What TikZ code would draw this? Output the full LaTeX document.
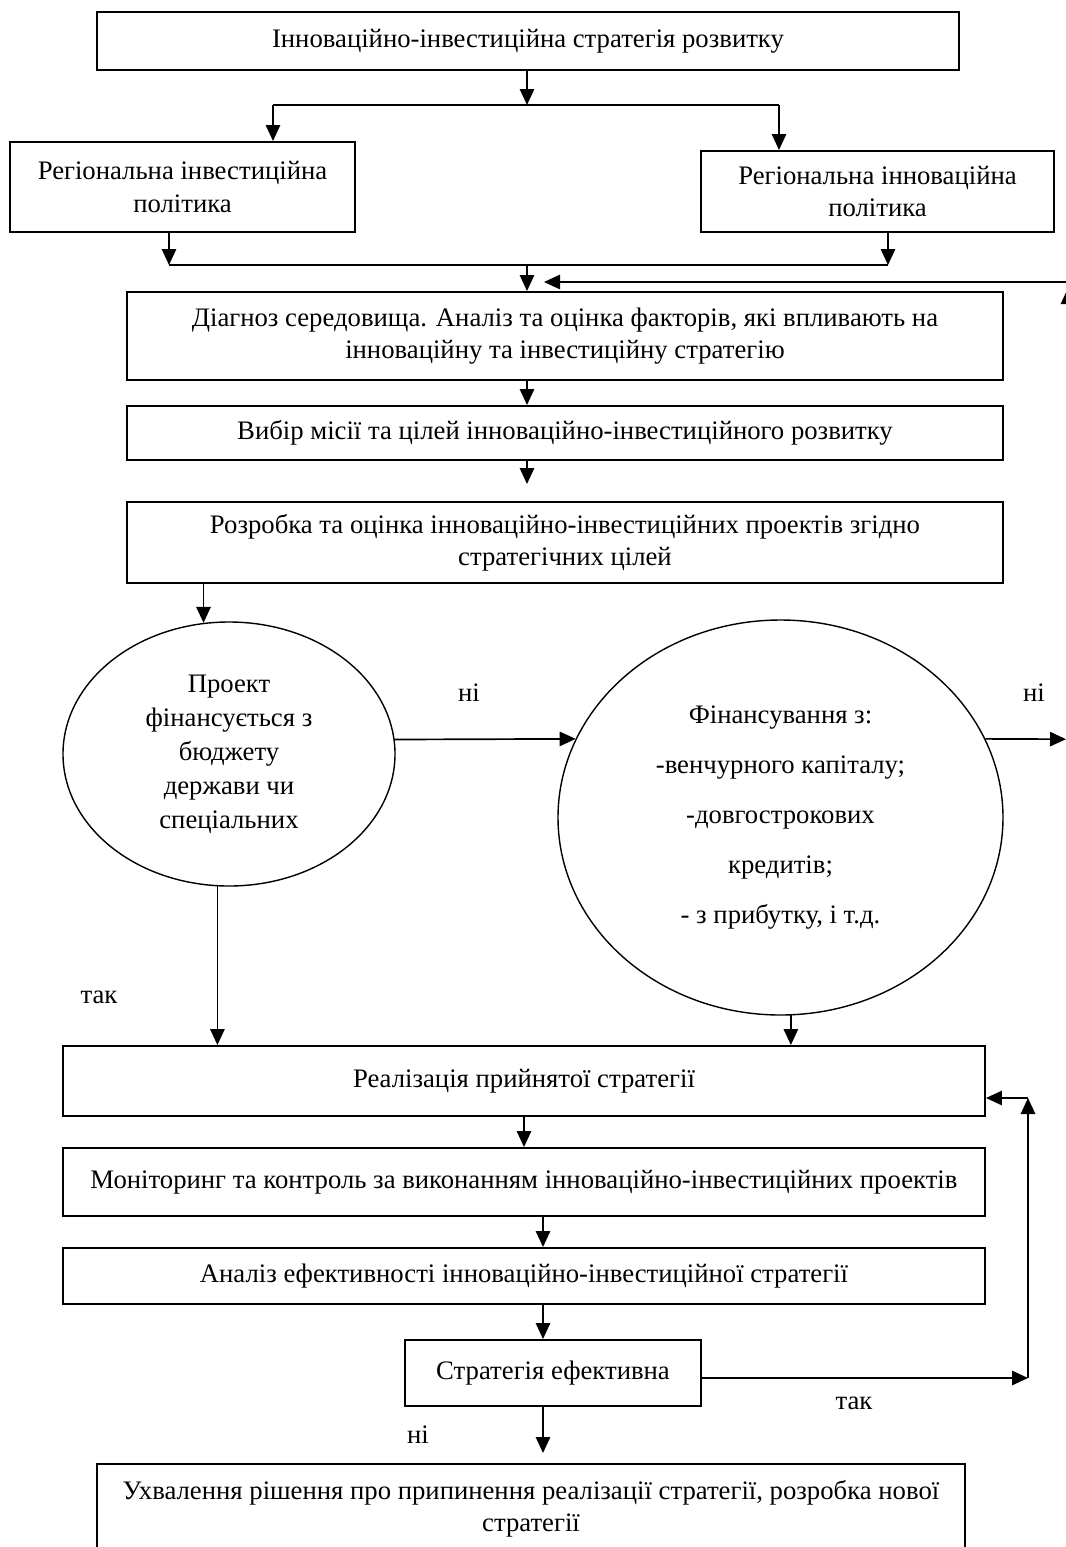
\documentclass[tikz,border=0pt]{standalone}
\usepackage{fontspec}
\setmainfont{Liberation Serif}
\usetikzlibrary{shapes.geometric,arrows.meta}

\begin{document}
\begin{tikzpicture}[
    block/.style={rectangle, draw=black, line width=1.4pt, inner sep=0pt, align=center, font=\fontsize{19}{22.8}\selectfont},
    decision/.style={ellipse, draw=black, line width=1pt, inner sep=0pt, align=center},
    answer/.style={font=\fontsize{19}{22.8}\selectfont},
    arrow/.style={-{Triangle[length=0.4cm,width=0.36cm]}, line width=1.2pt},
    joinline/.style={line width=1.2pt}
]

\useasboundingbox (0,0) rectangle (26.65,-38.675);
\clip (0,0) rectangle (26.65,-38.675);

% Strategy and policies
\node[block, minimum width=21.55cm, minimum height=1.45cm] at (13.2,-1.025) (strat) {Інноваційно-інвестиційна стратегія розвитку};
\node[block, minimum width=8.625cm, minimum height=2.25cm] at (4.5625,-4.675) (invpol) {Регіональна інвестиційна\\політика};
\node[block, minimum width=8.825cm, minimum height=2.025cm] at (21.9375,-4.7875) (innpol) {Регіональна інноваційна\\політика};

% Analysis steps
\node[block, minimum width=21.9cm, minimum height=2.2cm] at (14.125,-8.4) (diag) {Діагноз середовища. Аналіз та оцінка факторів, які впливають на\\інноваційну та інвестиційну стратегію};
\node[block, minimum width=21.9cm, minimum height=1.35cm] at (14.125,-10.825) (mission) {Вибір місії та цілей інноваційно-інвестиційного розвитку};
\node[block, minimum width=21.9cm, minimum height=2.025cm] at (14.125,-13.5625) (projects) {Розробка та оцінка інноваційно-інвестиційних проектів згідно\\стратегічних цілей};

% Financing decisions
\node[decision, minimum width=8.3cm, minimum height=6.6cm, font=\fontsize{19}{24.2}\selectfont] at (5.725,-18.85) (budget) {Проект\\фінансується з\\бюджету\\держави чи\\спеціальних};
\node[decision, minimum width=11.125cm, minimum height=9.875cm, font=\fontsize{19}{35.6}\selectfont] at (19.5125,-20.4375) (funds) {Фінансування з:\\-венчурного капіталу;\\-довгострокових\\кредитів;\\- з прибутку, і т.д.};

% Implementation and control
\node[block, minimum width=23.05cm, minimum height=1.75cm] at (13.1,-27.025) (impl) {Реалізація прийнятої стратегії};
\node[block, minimum width=23.05cm, minimum height=1.7cm] at (13.1,-29.55) (monitor) {Моніторинг та контроль за виконанням інноваційно-інвестиційних проектів};
\node[block, minimum width=23.05cm, minimum height=1.4cm] at (13.1,-31.9) (effect) {Аналіз ефективності інноваційно-інвестиційної стратегії};
\node[block, minimum width=7.4cm, minimum height=1.65cm] at (13.825,-34.325) (check) {Стратегія ефективна};
\node[block, minimum width=21.7cm, minimum height=2.25cm] at (13.275,-37.725) (stop) {Ухвалення рішення про припинення реалізації стратегії, розробка нової\\стратегії};

% Answers
\node[answer] at (11.725,-17.325) (no1) {ні};
\node[answer] at (25.85,-17.325) (no2) {ні};
\node[answer] at (2.475,-24.925) (yes1) {так};
\node[answer] at (21.35,-35.075) (yes2) {так};
\node[answer] at (10.45,-35.875) (no3) {ні};

% Helper points
\coordinate (split) at (13.175,-2.625);
\coordinate (splitL) at (6.825,-2.625);
\coordinate (splitR) at (19.475,-2.625);
\coordinate (joinL) at (4.225,-6.625);
\coordinate (joinR) at (22.2,-6.625);
\coordinate (joinC) at (13.175,-6.625);
\coordinate (backin) at (26.75,-7.05);
\coordinate (backtip) at (13.6,-7.05);
\coordinate (edgelow) at (26.7,-9);
\coordinate (edgetip) at (26.7,-7.2);
\coordinate (gap) at (13.175,-12.1);
\coordinate (out) at (26.65,-18.48);
\coordinate (col) at (13.575,-31);
\coordinate (down) at (13.575,-36.325);
\coordinate (loopA) at (25.7,-34.45);
\coordinate (loopB) at (25.7,-27.45);

% Arrows
\draw[arrow] (split |- strat.south) -- (split);
\draw[joinline] (splitL) -- (splitR);
\draw[arrow] (splitL) -- (splitL |- invpol.north);
\draw[arrow] (splitR) -- (splitR |- innpol.north);
\draw[arrow] (joinL |- invpol.south) -- (joinL);
\draw[arrow] (joinR |- innpol.south) -- (joinR);
\draw[joinline] (joinL) -- (joinR);
\draw[arrow] (joinC) -- (joinC |- diag.north);
\draw[arrow] (backin) -- (backtip);
\draw[arrow] (edgelow) -- (edgetip);
\draw[arrow] (diag.south -| joinC) -- (mission.north -| joinC);
\draw[arrow] (mission.south -| joinC) -- (gap);
\draw[arrow] (projects.south -| budget.101) -- (budget.101);
\draw[arrow] (budget.5) -- (funds.159);
\draw[arrow] (funds.21) -- (out);
\draw[arrow] (budget.-95) -- (budget.-95 |- impl.north);
\draw[arrow] (funds.-87) -- (funds.-87 |- impl.north);
\draw[arrow] (impl) -- (monitor);
\draw[arrow] (monitor.south -| col) -- (effect.north -| col);
\draw[arrow] (effect.south -| col) -- (check.north -| col);
\draw[arrow] (check.south -| col) -- (down);
\draw[arrow] (check.east |- loopA) -- (loopA);
\draw[arrow] (loopA) -- (loopB);
\draw[arrow] (loopB) -- (loopB -| impl.east);

\end{tikzpicture}
\end{document}
